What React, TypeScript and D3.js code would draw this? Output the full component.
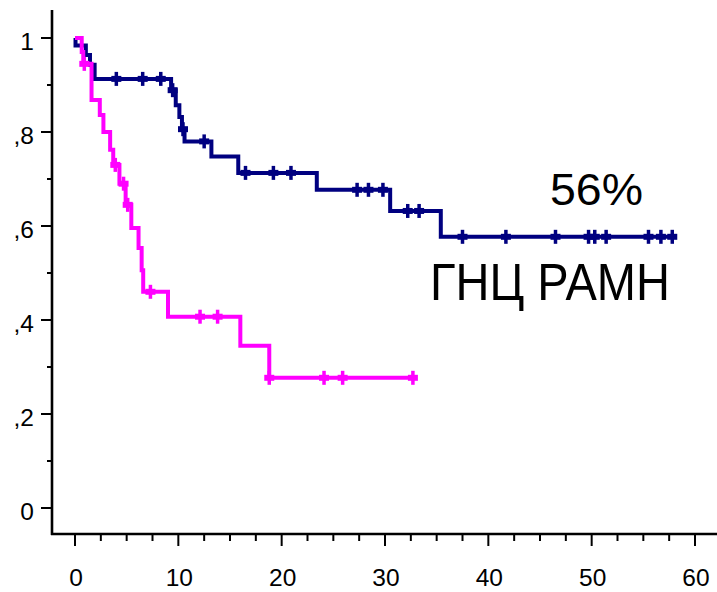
import React from "react";
import * as d3 from "d3";

const xTickLabels = [0, 10, 20, 30, 40, 50, 60];
const yTickLabels = ["0", ",2", ",4", ",6", ",8", "1"];
const yTickValues = [0, 0.2, 0.4, 0.6, 0.8, 1];

const blueDeathTimes = [0.05, 1.05, 1.45, 1.9, 9.3, 9.75, 10.1, 10.35, 10.6, 13.2, 15.8, 23.4, 30.5, 35.4];
const blueSurv = [0.984, 0.964, 0.943, 0.913, 0.889, 0.857, 0.832, 0.806, 0.78, 0.748, 0.713, 0.677, 0.632, 0.577];
const blueCensor = [4.0, 6.55, 8.3, 9.45, 10.45, 12.5, 16.5, 19.2, 20.9, 27.3, 28.4, 29.8, 32.2, 33.3, 37.5, 41.7, 46.5, 49.7, 50.3, 51.4, 55.5, 56.7, 57.8];
const blueEnd = 57.8;

const magentaDeathTimes = [0.65, 0.8, 1.6, 2.4, 2.75, 3.4, 3.7, 4.3, 4.9, 5.45, 6.15, 6.45, 6.6, 9.0, 16.0, 18.8];
const magentaSurv = [0.97, 0.945, 0.868, 0.836, 0.8, 0.762, 0.73, 0.69, 0.645, 0.596, 0.553, 0.506, 0.46, 0.407, 0.345, 0.277];
const magentaCensor = [0.9, 3.9, 4.7, 5.1, 7.3, 12.1, 13.8, 18.8, 24.1, 25.9, 32.7];
const magentaEnd = 32.7;

const annotationPct = "56%";
const annotationName = "ГНЦ РАМН";

const W = 717;
const H = 592;
const x = d3.scaleLinear().domain([0, 60]).range([75, 695]);
const y = d3.scaleLinear().domain([0, 1]).range([508, 38]);
const AX_X = 52;
const AX_Y = 534;

function survAt(times: number[], surv: number[], t: number) {
  let s = 1;
  for (let i = 0; i < times.length; i++) if (times[i] <= t) s = surv[i];
  return s;
}

function Curve({ times, surv, end, censor, color }: { times: number[]; surv: number[]; end: number; censor: number[]; color: string }) {
  const pts: [number, number][] = [[0, 1]];
  times.forEach((t, i) => pts.push([t, surv[i]]));
  pts.push([end, surv[surv.length - 1]]);
  const line = d3
    .line<[number, number]>()
    .x((d) => x(d[0]))
    .y((d) => y(d[1]))
    .curve(d3.curveStepAfter);
  return (
    <g>
      <path d={line(pts) || ""} fill="none" stroke={color} strokeWidth={4} strokeLinejoin="miter" />
      {censor.map((t, i) => {
        const cx = x(t);
        const cy = y(survAt(times, surv, t));
        return (
          <g key={i}>
            <line x1={cx} x2={cx} y1={cy - 7} y2={cy + 7} stroke={color} strokeWidth={3.5} />
            <line x1={cx - 5} x2={cx + 5} y1={cy} y2={cy} stroke={color} strokeWidth={6} />
          </g>
        );
      })}
    </g>
  );
}

export default function App() {
  const yMinor = d3.range(0, 11).map((i) => i / 10);
  const xMinor = d3.range(0, 26).map((i) => i * 2.5).filter((v) => x(v) <= W);
  return (
    <svg
      width={W}
      height={H}
      style={{ position: "absolute", left: 0, top: 0, background: "#fff" }}
      fontFamily="'Liberation Sans', Arial, sans-serif"
    >
      <rect x={0} y={0} width={W} height={H} fill="#fff" />
      <line x1={AX_X} x2={AX_X} y1={10} y2={AX_Y + 1} stroke="#000" strokeWidth={2.6} />
      <line x1={AX_X - 1} x2={W} y1={AX_Y} y2={AX_Y} stroke="#000" strokeWidth={2.6} />
      {yMinor.map((v, i) => {
        const major = i % 2 === 0;
        return (
          <line key={"ym" + i} x1={AX_X - (major ? 11 : 5)} x2={AX_X} y1={y(v)} y2={y(v)} stroke="#000" strokeWidth={2} />
        );
      })}
      {yTickValues.map((v, i) => (
        <text key={"yl" + i} x={34} y={y(v) + 12} fontSize={24.5} textAnchor="end" fill="#000">
          {yTickLabels[i]}
        </text>
      ))}
      {xMinor.map((v, i) => {
        const major = i % 4 === 0;
        return (
          <line key={"xm" + i} x1={x(v)} x2={x(v)} y1={AX_Y} y2={AX_Y + (major ? 12 : 7)} stroke="#000" strokeWidth={2} />
        );
      })}
      {xTickLabels.map((v, i) => (
        <text key={"xl" + i} x={x(v) + 1} y={586} fontSize={24.5} textAnchor="middle" fill="#000">
          {v}
        </text>
      ))}
      <Curve times={blueDeathTimes} surv={blueSurv} end={blueEnd} censor={blueCensor} color="#000080" />
      <Curve times={magentaDeathTimes} surv={magentaSurv} end={magentaEnd} censor={magentaCensor} color="#ff00ff" />
      <text x={550} y={205} fontSize={45} fill="#000" textLength={93} lengthAdjust="spacingAndGlyphs">
        {annotationPct}
      </text>
      <text x={430} y={300} fontSize={51} fill="#000" textLength={240} lengthAdjust="spacingAndGlyphs">
        {annotationName}
      </text>
    </svg>
  );
}
